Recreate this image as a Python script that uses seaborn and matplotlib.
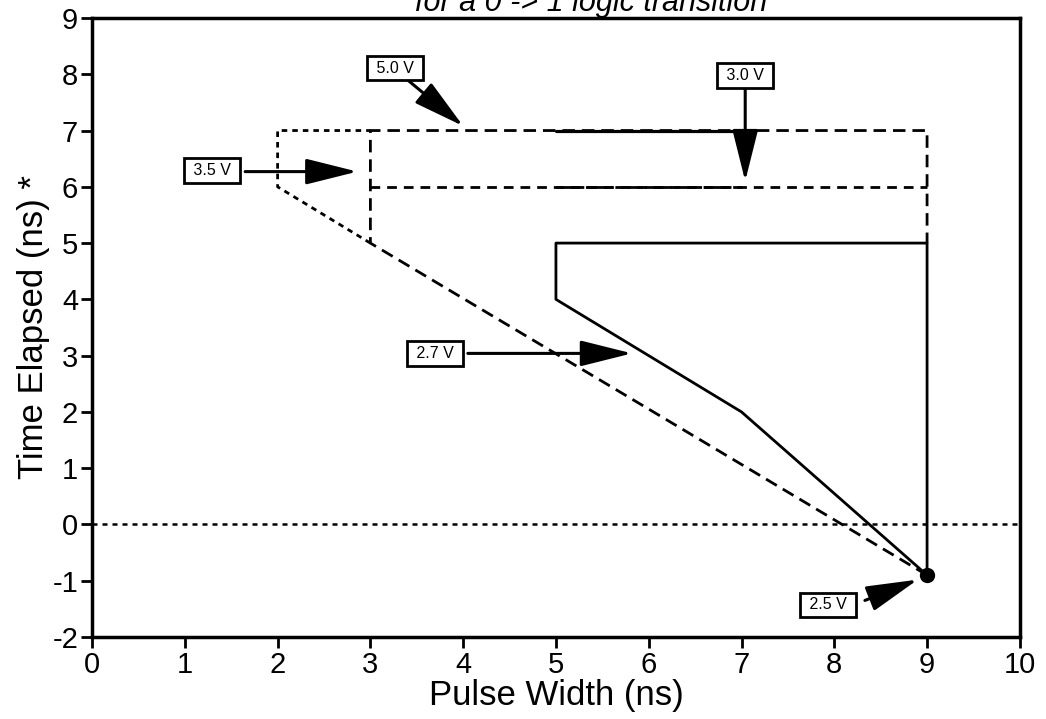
import matplotlib
matplotlib.use('Agg')
import matplotlib.pyplot as plt
import seaborn as sns
import pandas as pd

# curves (pulse width ns, time elapsed ns)
x_50 = [3, 2, 2, 3]
y_50 = [5, 6, 7, 7]

x_35 = [9, 3, 3, 9, 9]
y_35 = [-0.9, 5, 7, 7, 5]

x_30 = [3, 9]
y_30 = [6, 6]
x_30_mid = [5, 7]
y_30_mid = [6, 6]
x_top_mid = [5, 7]
y_top_mid = [7, 7]

x_27 = [9, 7, 5, 5, 9, 9]
y_27 = [-0.9, 2, 4, 5, 5, -0.9]

x_25 = [9]
y_25 = [-0.9]

# labels: text, box position, arrow tail, arrow tip
labels   = ['5.0 V', '3.0 V', '3.5 V', '2.7 V', '2.5 V']
box_x    = [3.27, 7.04, 1.29, 3.70, 7.93]
box_y    = [8.11, 7.98, 6.29, 3.04, -1.43]
tail_x   = [3.40, 7.04, 1.65, 4.05, 8.33]
tail_y   = [7.90, 7.80, 6.27, 3.04, -1.35]
tip_x    = [4.00, 7.04, 2.86, 5.82, 8.90]
tip_y    = [7.08, 6.10, 6.27, 3.04, -0.98]

xticks = list(range(0, 11))
yticks = list(range(-2, 10))

sns.set_style('ticks')
plt.rcParams['font.family'] = ['Liberation Sans', 'DejaVu Sans']
plt.rcParams['axes.unicode_minus'] = False
plt.rcParams['text.color'] = 'black'
plt.rcParams['xtick.color'] = 'black'
plt.rcParams['ytick.color'] = 'black'
plt.rcParams['axes.labelcolor'] = 'black'

fig = plt.figure(figsize=(10.46, 7.19), dpi=100)
ax = fig.add_axes([0.088, 0.114, 0.887, 0.861])

# zero line
ax.axhline(0, color='black', lw=1.8, linestyle=(0, (2, 2)))

def draw(xs, ys, ls, lw=2.0, z=2):
    df = pd.DataFrame({'x': xs, 'y': ys})
    sns.lineplot(data=df, x='x', y='y', sort=False, estimator=None, ax=ax,
                 color='black', lw=lw, linestyle=ls, zorder=z)

draw(x_50, y_50, (0, (2, 1.8)))
draw(x_35, y_35, (0, (4.5, 2.5)))
draw(x_30, y_30, (0, (3.5, 2.5)))
draw(x_30_mid, y_30_mid, (0, (10, 0.6)), z=3)
draw(x_top_mid, y_top_mid, '-', lw=2.3, z=3)
draw(x_27, y_27, '-')

ax.plot(x_25, y_25, 'o', color='black', ms=10, zorder=4)

for t, bx, by, sx, sy, ex, ey in zip(labels, box_x, box_y, tail_x, tail_y, tip_x, tip_y):
    ax.annotate('', xy=(ex, ey), xytext=(sx, sy),
                arrowprops=dict(arrowstyle='-|>,head_length=1.6,head_width=0.4',
                                mutation_scale=20, lw=2.2, color='black',
                                shrinkA=0, shrinkB=0))
    ax.text(bx, by, ' ' + t + ' ', ha='center', va='center', fontsize=11.5, zorder=5,
            bbox=dict(boxstyle='square,pad=0.3', fc='white', ec='black', lw=2))

ax.set_xlim(0, 10)
ax.set_ylim(-2, 9)
ax.set_xticks(xticks)
ax.set_yticks(yticks)
ax.tick_params(labelsize=21, width=2, length=8, direction='out', pad=2)
for s in ax.spines.values():
    s.set_linewidth(2.5)
    s.set_color('black')

ax.set_xlabel('Pulse Width (ns)', fontsize=25, labelpad=0)
ax.set_ylabel('Time Elapsed (ns) *', fontsize=25, labelpad=2)

fig.text(0.565, 1 - 11 / 719, 'for a 0 -> 1 logic transition', ha='center',
         va='baseline', fontsize=22, style='italic')

fig.savefig('out.png', dpi=100)
